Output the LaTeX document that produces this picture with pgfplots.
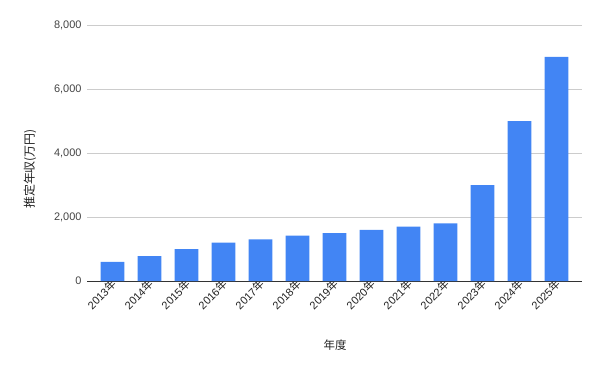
\documentclass[border=0pt]{standalone}
\usepackage{pgfplots}
\pgfplotsset{compat=1.18}
\usepackage{fontspec}
\setmainfont{Liberation Sans}
\newfontfamily\cjk{Noto Sans CJK JP}
\definecolor{barblue}{HTML}{4285F4}
\definecolor{gridgray}{HTML}{CCCCCC}
\definecolor{ticktext}{HTML}{444444}
\definecolor{labtext}{HTML}{222222}
\begin{document}
\begin{tikzpicture}[x=1bp,y=1bp]
\useasboundingbox (0,0) rectangle (601,371);
\begin{axis}[
  at={(87bp,90bp)}, anchor=south west,
  scale only axis, width=495bp, height=256bp,
  xmin=-0.69, xmax=12.69, ymin=0, ymax=8000,
  ytick={0,2000,4000,6000,8000},
  xtick={0,...,12},
  xticklabels={2013{\cjk 年},2014{\cjk 年},2015{\cjk 年},2016{\cjk 年},2017{\cjk 年},2018{\cjk 年},2019{\cjk 年},2020{\cjk 年},2021{\cjk 年},2022{\cjk 年},2023{\cjk 年},2024{\cjk 年},2025{\cjk 年}},
  x tick label style={rotate=45, anchor=east, font=\fontsize{11}{13}\selectfont, text=labtext, xshift=4bp, yshift=-2bp},
  y tick label style={font=\fontsize{11}{13}\selectfont, text=ticktext, xshift=-2bp},
  scaled y ticks=false,
  yticklabel={\pgfmathprintnumber[fixed,1000 sep={,}]{\tick}},
  /pgf/number format/assume math mode=true,
  axis x line*=bottom, axis y line*=left,
  y axis line style={draw=none},
  ymajorgrids, grid style={gridgray, line width=0.8pt},
  x axis line style={black!80, line width=1pt, -},
  major tick length=0pt,
  xtick style={draw=none},
  ytick style={draw=none},
  bar width=0.64,
  ybar, bar shift=0pt,
  clip=false,
]
\addplot[fill=barblue, draw=none] coordinates {
(0,600) (1,780) (2,1000) (3,1200) (4,1300) (5,1420) (6,1500) (7,1600) (8,1700) (9,1800) (10,3000) (11,5000) (12,7000)
};
\end{axis}
\node[rotate=90, font=\cjk\fontsize{12}{14}\selectfont, text=labtext] at (30,202) {推定年収(万円)};
\node[font=\cjk\fontsize{11.5}{14}\selectfont, text=labtext] at (335,26) {年度};
\end{tikzpicture}
\end{document}
